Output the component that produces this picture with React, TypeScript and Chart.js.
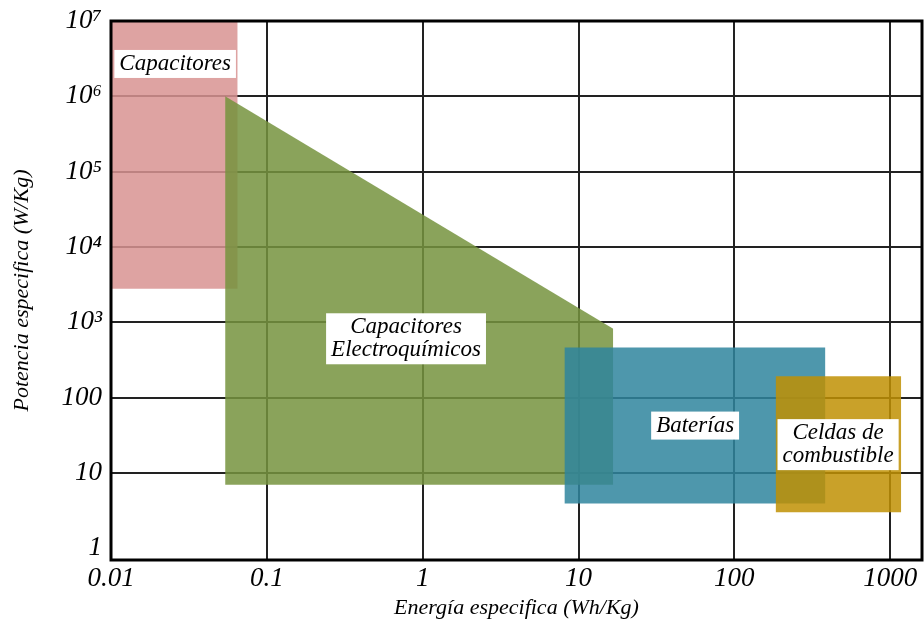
import React, { useEffect, useRef } from 'react';
import { Chart, registerables } from 'chart.js';

Chart.register(...registerables);

// ---- Data (log-log: specific energy Wh/Kg vs specific power W/Kg) ----
const regionNames = ['Capacitores', 'Capacitores Electroquímicos', 'Baterías', 'Celdas de combustible'];
const regionX = [
  [0.01, 0.065],
  [0.054, 16.7],
  [8.12, 384],
  [184, 1177],
];
const regionTop = [
  [1e7, 1e7],
  [1e6, 822],
  [465, 465],
  [192, 192],
];
const regionBottom = [
  [2790, 2790],
  [7, 7],
  [3.93, 3.93],
  [3.01, 3.01],
];
const regionColors = [
  'rgba(216,147,146,0.85)',
  'rgba(117,147,62,0.85)',
  'rgba(47,133,157,0.85)',
  'rgba(191,144,4,0.85)',
];

const labelLines = [
  ['Capacitores'],
  ['Capacitores', 'Electroquímicos'],
  ['Baterías'],
  ['Celdas de', 'combustible'],
];
const labelX = [0.0258, 0.782, 56, 463];
const labelY = [2.69e6, 605, 42.6, 23.8];

const xTicks = [0.01, 0.1, 1, 10, 100, 1000];
const xTickLabels = ['0.01', '0.1', '1', '10', '100', '1000'];
const yTicks = [1, 10, 100, 1e3, 1e4, 1e5, 1e6, 1e7];
const yTickLabels = ['1', '10', '100', '10³', '10⁴', '10⁵', '10⁶', '10⁷'];

const xTitle = 'Energía especifica (Wh/Kg)';
const yTitle = 'Potencia especifica (W/Kg)';

const SERIF = '"Liberation Serif", "DejaVu Serif", serif';

const framePlugin = {
  id: 'frame',
  afterDatasetsDraw(chart: any) {
    const { ctx, chartArea } = chart;
    ctx.save();
    ctx.strokeStyle = '#000';
    ctx.lineWidth = 3;
    ctx.strokeRect(chartArea.left, chartArea.top, chartArea.right - chartArea.left, chartArea.bottom - chartArea.top);
    ctx.restore();
  },
};

const labelPlugin = {
  id: 'regionLabels',
  afterDatasetsDraw(chart: any) {
    const { ctx } = chart;
    const xs = chart.scales.x;
    const ys = chart.scales.y;
    ctx.save();
    ctx.font = `italic 23px ${SERIF}`;
    ctx.textAlign = 'center';
    ctx.textBaseline = 'middle';
    labelLines.forEach((lines, i) => {
      const cx = xs.getPixelForValue(labelX[i]);
      const cy = ys.getPixelForValue(labelY[i]);
      const lh = 23;
      const w = Math.max(...lines.map((l) => ctx.measureText(l).width)) + 10;
      const h = lines.length * lh + 5;
      ctx.fillStyle = '#fff';
      ctx.fillRect(cx - w / 2, cy - h / 2, w, h);
      ctx.fillStyle = '#000';
      lines.forEach((l, j) => {
        ctx.fillText(l, cx, cy - h / 2 + 2.5 + lh * (j + 0.5));
      });
    });
    ctx.restore();
  },
};

export default function App() {
  const ref = useRef<HTMLCanvasElement>(null);

  useEffect(() => {
    if (!ref.current) return;
    const datasets: any[] = [];
    regionNames.forEach((name, i) => {
      const order = regionNames.length - i;
      datasets.push({
        label: name,
        data: regionX[i].map((x, j) => ({ x, y: regionTop[i][j] })),
        fill: '+1',
        backgroundColor: regionColors[i],
        borderWidth: 0,
        pointRadius: 0,
        tension: 0,
        order,
      });
      datasets.push({
        label: name + ' (base)',
        data: regionX[i].map((x, j) => ({ x, y: regionBottom[i][j] })),
        fill: false,
        borderWidth: 0,
        pointRadius: 0,
        tension: 0,
        order,
      });
    });

    const chart = new Chart(ref.current, {
      type: 'line',
      data: { datasets },
      options: {
        animation: false,
        responsive: false,
        layout: { padding: { top: 21, right: 2, left: 0, bottom: 0 } },
        plugins: { legend: { display: false }, tooltip: { enabled: false } },
        scales: {
          x: {
            type: 'logarithmic',
            min: 0.01,
            max: 1600,
            afterBuildTicks: (s: any) => {
              s.ticks = xTicks.map((v) => ({ value: v }));
            },
            afterFit: (s: any) => {
              s.height = 64;
              s.paddingLeft = 0;
              s.paddingRight = 0;
            },
            ticks: {
              autoSkip: false,
              maxRotation: 0,
              padding: 3,
              color: '#000',
              font: { family: SERIF, size: 27, style: 'italic' },
              callback: (v: any) => {
                const k = xTicks.indexOf(Number(v));
                return k >= 0 ? xTickLabels[k] : '';
              },
            },
            grid: { color: '#222', lineWidth: 2, drawTicks: false },
            border: { display: false },
            title: {
              display: true,
              text: xTitle,
              color: '#000',
              font: { family: SERIF, size: 22, style: 'italic' },
              padding: { top: 0, bottom: 3 },
            },
          },
          y: {
            type: 'logarithmic',
            min: 0.73,
            max: 1e7,
            afterBuildTicks: (s: any) => {
              s.ticks = yTicks.map((v) => ({ value: v }));
            },
            afterFit: (s: any) => {
              s.width = 111;
              s.paddingTop = 0;
              s.paddingBottom = 0;
            },
            ticks: {
              autoSkip: false,
              padding: 9,
              color: '#000',
              font: { family: SERIF, size: 27, style: 'italic' },
              callback: (v: any) => {
                const k = yTicks.indexOf(Number(v));
                return k >= 0 ? yTickLabels[k] : '';
              },
            },
            grid: {
              color: (c: any) => (c.tick && c.tick.value === 1 ? 'rgba(0,0,0,0)' : '#222'),
              lineWidth: 2,
              drawTicks: false,
            },
            border: { display: false },
            title: {
              display: true,
              text: yTitle,
              color: '#000',
              font: { family: SERIF, size: 22, style: 'italic' },
              padding: { top: 9, bottom: 0 },
            },
          },
        },
      },
      plugins: [framePlugin, labelPlugin],
    });
    return () => chart.destroy();
  }, []);

  return (
    <div style={{ position: 'fixed', left: 0, top: 0, width: 924, height: 624, background: '#fff' }}>
      <canvas ref={ref} width={924} height={624} style={{ display: 'block' }} />
    </div>
  );
}
